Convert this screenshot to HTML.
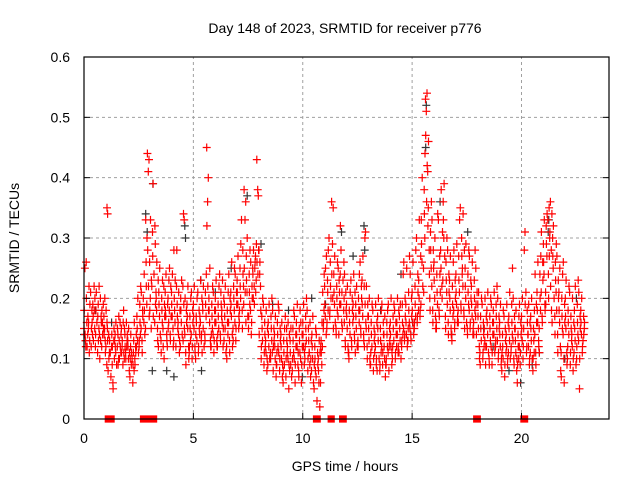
<!DOCTYPE html>
<html><head><meta charset="utf-8"><style>
body{margin:0;background:#fff;}
svg{display:block;font-family:"Liberation Sans",sans-serif;}
</style></head><body>
<svg id="chart" width="640" height="480">
<rect width="640" height="480" fill="#fff"/>
<g id="grid"></g>
<g id="black"></g>
<g id="red"></g>
<rect x="84" y="57" width="525" height="362" fill="none" stroke="#000" stroke-width="1.2"/>
<g id="ticks"></g>
<text x="345" y="33" text-anchor="middle" font-size="14">Day 148 of 2023, SRMTID for receiver p776</text>
<text x="345" y="471" text-anchor="middle" font-size="14">GPS time / hours</text>
<text transform="translate(19,238) rotate(-90)" text-anchor="middle" font-size="14">SRMTID / TECUs</text>
</svg>
<script>
const xTicks=[0,5,10,15,20];
const yTicks=[0,0.1,0.2,0.3,0.4,0.5,0.6];
const yTickLabels=["0","0.1","0.2","0.3","0.4","0.5","0.6"];
// [time(h), [values x100]]
const redBins=[
[0.0,[15,13,25,18,12,14]],[0.1,[16,26,14,12,20,17]],[0.2,[13,22,15,19,11,16]],[0.3,[14,18,12,21,16,15]],[0.4,[17,15,22,13,19,18]],
[0.5,[18,12,16,21,14,20]],[0.6,[15,19,11,22,13,17]],[0.7,[14,17,20,10,16,13]],[0.8,[16,12,19,14,18,15]],[0.9,[13,15,17,11,20,14]],
[1.0,[12,15,9,18,13,16]],[1.05,[34,35]],[1.1,[11,14,8,13,10,0,0]],[1.2,[9,12,7,11,14,0,0]],[1.3,[6,10,13,5,12,15]],[1.4,[11,14,9,16,12,13]],
[1.5,[10,14,12,17,9,15]],[1.6,[13,11,16,10,14,12]],[1.7,[12,15,9,13,11,16]],[1.8,[14,10,18,12,15,11]],[1.9,[11,13,16,10,14,12]],
[2.0,[10,13,8,15,12,11]],[2.1,[9,12,7,11,14,10]],[2.2,[8,11,6,10,13,9]],[2.3,[10,14,12,9,16,11]],[2.4,[13,17,11,20,15,12]],
[2.5,[14,19,12,22,16,13]],[2.6,[15,18,13,21,17,11]],[2.7,[16,20,14,24,0,0,18]],[2.8,[19,26,15,30,22,33]],[2.9,[44,43,41,28,17,22]],
[3.0,[20,26,15,33,18,23]],[3.1,[39,31,22,17,27,0,0]],[3.2,[21,29,16,24,19,32]],[3.3,[18,23,15,26,20,13]],[3.4,[17,21,14,25,19,12]],
[3.5,[16,20,13,23,18,11]],[3.6,[15,19,22,12,17,10]],[3.7,[17,21,14,24,18,13]],[3.8,[16,20,12,23,15,19]],[3.9,[18,22,14,25,17,13]],
[4.0,[17,21,15,24,19,12]],[4.1,[16,20,13,23,18,28]],[4.2,[15,19,22,12,17,28]],[4.3,[14,18,11,21,16,13]],[4.4,[16,20,14,23,18,12]],
[4.5,[33,34,22,15,19,13]],[4.6,[14,18,11,20,16,9]],[4.7,[15,19,12,22,17,10]],[4.8,[13,17,11,20,15,12]],[4.9,[14,18,10,21,16,12]],
[5.0,[15,19,12,22,17,11]],[5.1,[13,17,10,20,16,14]],[5.2,[14,18,11,21,15,12]],[5.3,[16,20,13,23,17,14]],[5.4,[15,19,12,22,18,11]],
[5.5,[17,21,14,24,19,13]],[5.6,[45,40,36,32,18,22]],[5.7,[16,20,13,25,18,12]],[5.8,[15,19,12,22,17,14]],[5.9,[14,18,11,21,16,13]],
[6.0,[16,20,13,23,18,12]],[6.1,[15,19,12,22,17,14]],[6.2,[17,21,14,24,19,13]],[6.3,[16,20,12,23,18,15]],[6.4,[15,19,11,22,17,13]],
[6.5,[14,18,12,21,16,10]],[6.6,[16,20,13,24,18,11]],[6.7,[17,21,14,26,19,12]],[6.8,[18,22,15,25,20,13]],[6.9,[16,21,13,24,19,15]],
[7.0,[19,23,15,27,21,17]],[7.1,[20,25,16,29,22,18]],[7.2,[22,28,18,33,24,15]],[7.3,[38,36,33,25,19,21]],[7.4,[21,27,17,30,23,16]],
[7.5,[19,24,15,28,21,17]],[7.6,[18,22,14,26,20,16]],[7.7,[20,25,22,28,24,19]],[7.8,[23,27,25,29,21,26]],[7.9,[43,37,38,26,28,24]],
[8.0,[24,28,22,26,14,18]],[8.1,[13,17,10,20,15,12]],[8.2,[12,16,9,19,14,11]],[8.3,[11,15,8,18,13,10]],[8.4,[12,16,10,19,14,9]],
[8.5,[13,17,11,20,15,10]],[8.6,[11,15,8,18,13,12]],[8.7,[10,14,7,17,12,9]],[8.8,[12,16,9,19,14,11]],[8.9,[11,15,8,18,13,10]],
[9.0,[10,14,7,16,12,9]],[9.1,[9,13,6,15,11,8]],[9.2,[11,15,7,17,13,10]],[9.3,[10,14,5,16,12,9]],[9.4,[9,13,7,15,11,8]],
[9.5,[11,15,8,18,13,10]],[9.6,[10,14,6,17,12,9]],[9.7,[12,16,9,19,14,11]],[9.8,[11,15,8,18,13,7]],[9.9,[10,14,6,16,12,9]],
[10.0,[12,16,9,19,14,11]],[10.1,[13,17,10,20,15,12]],[10.2,[11,15,8,18,13,10]],[10.3,[9,13,7,16,11,10]],[10.4,[10,14,6,17,12,8]],
[10.5,[8,12,5,15,10,9]],[10.6,[7,11,3,14,9,0,0]],[10.7,[6,10,2,13,8,11]],[10.8,[9,13,6,16,11,12]],[10.9,[12,18,15,21,24,16]],
[11.0,[17,22,14,25,19,27]],[11.1,[18,23,15,28,21,16]],[11.2,[20,26,17,30,22,18]],[11.3,[36,35,29,24,0,20]],[11.4,[19,24,16,27,21,15]],
[11.5,[18,22,15,26,20,14]],[11.6,[17,21,14,25,19,23]],[11.7,[19,24,16,28,32,21]],[11.8,[18,23,15,26,0,0,20]],[11.9,[16,21,13,24,18,12]],
[12.0,[15,19,12,22,17,11]],[12.1,[14,18,11,21,16,10]],[12.2,[16,20,13,23,18,12]],[12.3,[17,21,14,24,19,13]],[12.4,[15,19,12,22,17,11]],
[12.5,[16,20,13,24,18,12]],[12.6,[18,22,15,26,20,14]],[12.7,[17,23,14,27,19,13]],[12.8,[31,30,22,16,19,12]],[12.9,[15,19,12,22,17,10]],
[13.0,[13,17,10,20,15,9]],[13.1,[12,16,9,19,14,11]],[13.2,[11,15,8,18,13,10]],[13.3,[12,16,9,19,14,10]],[13.4,[13,17,10,20,15,8]],
[13.5,[11,15,8,18,13,9]],[13.6,[12,16,9,19,14,11]],[13.7,[10,14,7,17,12,9]],[13.8,[12,16,9,18,14,10]],[13.9,[11,15,8,19,13,12]],
[14.0,[12,16,9,20,14,11]],[14.1,[13,17,10,19,15,12]],[14.2,[12,16,10,18,14,11]],[14.3,[14,18,11,20,16,12]],[14.4,[13,17,10,19,15,11]],
[14.5,[14,19,12,24,16,13]],[14.6,[15,20,13,26,17,14]],[14.7,[14,19,12,25,16,13]],[14.8,[16,21,13,27,18,15]],[14.9,[15,20,14,24,17,13]],
[15.0,[16,21,14,26,18,15]],[15.1,[17,22,15,28,19,16]],[15.2,[18,24,16,30,21,17]],[15.3,[20,27,17,33,23,18]],[15.4,[26,33,22,40,29,19]],
[15.5,[30,38,25,44,34,21]],[15.6,[53,54,51,47,42,36]],[15.7,[35,41,28,46,32,24]],[15.8,[25,31,20,36,28,18]],[15.9,[22,28,18,33,25,16]],
[16.0,[20,26,17,30,23,15]],[16.1,[19,24,16,34,21,15]],[16.2,[21,27,18,33,24,17]],[16.3,[25,31,22,38,28,20]],[16.4,[30,36,27,39,33,23]],
[16.5,[21,26,17,30,23,15]],[16.6,[19,24,16,28,21,14]],[16.7,[18,23,15,27,20,14]],[16.8,[17,22,14,26,19,13]],[16.9,[18,23,15,28,20,16]],
[17.0,[19,24,16,29,21,17]],[17.1,[21,27,18,33,23,16]],[17.2,[24,30,19,35,27,18]],[17.3,[22,28,18,34,25,17]],[17.4,[20,25,16,29,22,15]],
[17.5,[19,24,15,28,21,14]],[17.6,[18,23,15,27,20,16]],[17.7,[17,22,14,26,19,15]],[17.8,[18,23,16,28,20,14]],[17.9,[17,21,14,25,0,0,19]],
[18.0,[15,19,12,21,17,10]],[18.1,[13,17,11,20,15,9]],[18.2,[12,16,10,19,14,11]],[18.3,[13,17,9,20,15,12]],[18.4,[14,18,11,21,16,12]],
[18.5,[13,17,10,20,15,9]],[18.6,[12,16,9,19,14,11]],[18.7,[14,18,11,21,16,12]],[18.8,[15,19,12,22,17,13]],[18.9,[13,17,10,20,15,11]],
[19.0,[12,16,9,19,14,10]],[19.1,[10,14,8,18,12,11]],[19.2,[11,15,7,17,13,9]],[19.3,[12,16,9,19,14,10]],[19.4,[13,17,10,21,15,11]],
[19.5,[14,19,11,25,16,12]],[19.6,[13,17,10,20,15,9]],[19.7,[11,15,8,18,13,10]],[19.8,[10,14,6,17,12,9]],[19.9,[12,16,9,19,14,11]],
[20.0,[13,17,10,20,15,12]],[20.1,[31,28,15,19,0,0]],[20.2,[14,18,11,21,16,12]],[20.3,[12,16,9,19,14,10]],[20.4,[13,17,10,20,15,11]],
[20.5,[11,15,8,18,13,10]],[20.6,[14,19,11,24,16,9]],[20.7,[16,21,13,26,18,12]],[20.8,[18,24,15,27,20,11]],[20.9,[21,26,17,31,23,16]],
[21.0,[24,29,19,33,26,18]],[21.1,[27,32,21,34,29,19]],[21.2,[30,35,24,33,27,20]],[21.3,[36,34,28,22,31,18]],[21.4,[25,30,20,32,27,16]],
[21.5,[21,26,17,29,23,14]],[21.6,[18,23,14,27,20,11]],[21.7,[16,21,12,25,18,8]],[21.8,[15,20,11,24,17,7]],[21.9,[14,19,10,26,16,6]],
[22.0,[15,20,11,23,17,9]],[22.1,[14,18,10,22,16,12]],[22.2,[13,17,9,21,15,11]],[22.3,[12,16,8,20,14,10]],[22.4,[13,18,9,22,15,11]],
[22.5,[14,19,10,23,16,12]],[22.6,[13,17,5,21,15,10]],[22.7,[14,18,11,20,16,12]],[22.8,[15,17,13,16,14]]
];
const blackBins=[
[0.0,[14,13]],[0.5,[18]],[1.2,[16]],[2.3,[12]],[2.8,[34,31]],[3.1,[39,8]],[3.7,[8]],[4.1,[7]],[4.6,[30,32]],[5.3,[8,23]],
[6.0,[21]],[6.7,[25]],[7.4,[37]],[8.0,[29]],[8.6,[19]],[9.3,[18]],[9.9,[7]],[10.4,[20]],[11.0,[19]],[11.7,[31]],
[12.3,[27]],[12.8,[28,32]],[13.5,[18]],[14.4,[24]],[15.0,[16]],[15.6,[52,45]],[16.2,[36]],[16.8,[14]],[17.5,[31]],[18.2,[15]],
[18.7,[12]],[19.4,[8]],[19.9,[6]],[20.4,[9]],[20.8,[11]],[21.2,[33,31]],[21.9,[10]],[22.5,[20]]
];
const X0=84,X1=609,XMAX=24,Y0=419,Y1=57,YMAX=0.6;
function xs(t){return X0+(X1-X0)*t/XMAX;}
function ys(v){return Y0-(Y0-Y1)*v/YMAX;}
const NS='http://www.w3.org/2000/svg';
function mk(tag,attrs,parent){const e=document.createElementNS(NS,tag);for(const k in attrs)e.setAttribute(k,attrs[k]);parent.appendChild(e);return e;}
const grid=document.getElementById('grid'),ticks=document.getElementById('ticks');
xTicks.forEach(t=>{
  if(t>0){const g=mk('line',{x1:xs(t),x2:xs(t),y1:Y0,y2:Y1,stroke:'#a0a0a0','stroke-dasharray':'3,3'},grid);
  
  }
  const tk=mk('line',{x1:xs(t),x2:xs(t),y1:Y0,y2:Y0-6,stroke:'#000'},ticks);
  
  
  const lb=mk('text',{x:xs(t),y:Y0+24,'text-anchor':'middle','font-size':'14'},ticks);lb.textContent=String(t);
  
  
});
yTicks.forEach((v,i)=>{
  if(v>0&&v<YMAX){const g=mk('line',{x1:X0,x2:X1,y1:ys(v),y2:ys(v),stroke:'#a0a0a0','stroke-dasharray':'3,3'},grid);
  
  }
  const tk=mk('line',{x1:X0,x2:X0+6,y1:ys(v),y2:ys(v),stroke:'#000'},ticks);
  
  
  const tk2=mk('line',{x1:X1,x2:X1-6,y1:ys(v),y2:ys(v),stroke:'#000'},ticks);
  
  
  const lb=mk('text',{x:X0-14,y:ys(v)+5,'text-anchor':'end','font-size':'14'},ticks);lb.textContent=yTickLabels[i];
  
  
});
function plot(bins,parent,color,name,width){
  let d='';
  bins.forEach(([t,vals],i)=>{
    vals.forEach((v,j)=>{
      const frac=((j*37+i*23)%10)/10;
      const px=xs(t+width*frac),py=ys(v/100);
      if(v===0){
        d+='M'+(px-3).toFixed(1)+' '+(py-3).toFixed(1)+'h6v6h-6z';
      } else {
        d+='M'+(px-4).toFixed(1)+' '+py.toFixed(1)+'h8M'+px.toFixed(1)+' '+(py-4).toFixed(1)+'v8';
      }
    });
  });
  const p=mk('path',{d:d,stroke:color,'stroke-width':'1.2',fill:color},parent);
  
  
}
plot(blackBins,document.getElementById('black'),'#333','black-points',0.1);
plot(redBins,document.getElementById('red'),'#ff0000','red-points',0.1);
</script>
</body></html>
